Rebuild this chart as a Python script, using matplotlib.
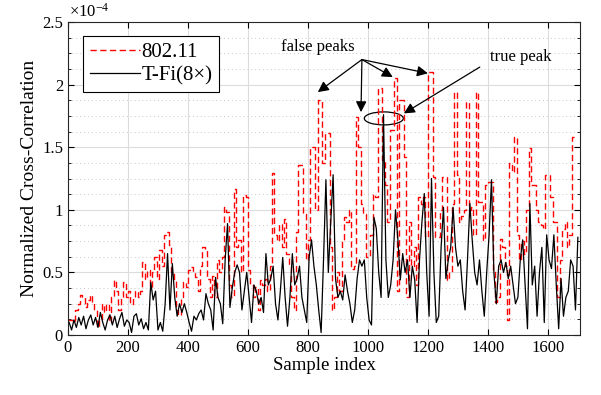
import numpy as np
import matplotlib
matplotlib.use("Agg")
import matplotlib.pyplot as plt
from matplotlib.patches import Ellipse
from matplotlib.ticker import MultipleLocator, FormatStrFormatter

plt.rcParams["font.family"] = ["Liberation Serif", "DejaVu Serif"]
plt.rcParams["mathtext.fontset"] = "custom"
plt.rcParams["mathtext.rm"] = "Liberation Serif"
plt.rcParams["mathtext.it"] = "Liberation Serif:italic"

# values in units of 1e-4, one value per 8-sample block
step = 8
wifi_8021 = [
    0.12, 0.12, 0.1, 0.2, 0.25, 0.32, 0.3, 0.22, 0.28, 0.32, 0.26, 0.2, 0.06,
    0.12, 0.25, 0.18, 0.25, 0.1, 0.3, 0.44, 0.35, 0.2, 0.3, 0.42, 0.3,
    0.35, 0.25, 0.3, 0.35, 0.3, 0.35, 0.58, 0.45, 0.52, 0.38, 0.5, 0.62, 0.45,
    0.68, 0.55, 0.8, 0.82, 0.72, 0.5, 0.45, 0.2, 0.16, 0.3, 0.42, 0.38,
    0.52, 0.54, 0.5, 0.46, 0.35, 0.55, 0.7, 0.68, 0.45, 0.3, 0.47, 0.3, 0.6,
    0.5, 0.62, 1.02, 0.98, 0.4, 0.3, 1.17, 0.7, 0.76, 0.5, 1.12, 1.1,
    0.52, 0.4, 0.3, 0.38, 0.2, 0.44, 0.4, 0.45, 0.35, 0.55, 1.29, 0.8, 0.75,
    0.89, 0.7, 0.93, 0.65, 0.55, 0.3, 0.2, 0.82, 1.36, 1.36, 0.97, 0.6,
    0.76, 1.5, 1.5, 1.0, 1.88, 1.88, 1.37, 1.61, 1.61, 0.7, 0.2, 0.3, 0.5,
    0.35, 0.75, 0.94, 0.9, 1.0, 0.53, 0.55, 1.74, 1.5, 1.05, 0.97, 0.62,
    0.62, 0.8, 1.13, 1.1, 1.97, 1.97, 1.4, 1.2, 0.9, 1.64, 1.64, 2.05, 0.35,
    1.88, 1.88, 1.42, 0.3, 0.9, 0.55, 0.7, 0.4, 1.1, 1.05, 1.1, 0.78,
    2.1, 2.1, 1.26, 0.78, 0.78, 1.0, 1.26, 1.26, 0.44, 0.5, 1.05, 1.94, 1.28,
    0.9, 0.95, 1.0, 1.86, 1.0, 1.02, 0.8, 1.94, 1.06, 1.06, 0.76, 1.2,
    1.22, 1.22, 0.5, 0.26, 0.3, 0.77, 0.7, 0.55, 0.12, 1.37, 1.3, 1.58, 0.8,
    0.6, 0.75, 0.65, 1.0, 1.49, 1.2, 1.2, 1.0, 0.9, 0.88, 0.85, 1.28,
    1.28, 1.1, 0.9, 0.9, 0.3, 0.6, 0.85, 0.9, 0.7, 0.8, 1.58, 1.58,
]

tfi_8x = [
    0.1, 0.04, 0.12, 0.06, 0.14, 0.08, 0.15, 0.05, 0.12, 0.16, 0.08, 0.14, 0.06,
    0.18, 0.1, 0.04, 0.12, 0.16, 0.08, 0.15, 0.06, 0.13, 0.18, 0.07, 0.12,
    0.1, 0.02, 0.15, 0.17, 0.08, 0.13, 0.05, 0.1, 0.04, 0.42, 0.28, 0.35, 0.04,
    0.1, 0.03, 0.25, 0.65, 0.2, 0.57, 0.3, 0.15, 0.25, 0.18, 0.25, 0.18,
    0.1, 0.03, 0.15, 0.12, 0.17, 0.2, 0.12, 0.33, 0.25, 0.2, 0.04, 0.46, 0.3,
    0.25, 0.09, 0.6, 0.89, 0.22, 0.38, 0.5, 0.56, 0.5, 0.2, 0.35, 0.5,
    0.3, 0.1, 0.4, 0.35, 0.25, 0.3, 0.18, 0.65, 0.4, 0.45, 0.55, 0.25, 0.12,
    0.35, 0.62, 0.3, 0.07, 0.3, 0.65, 0.4, 0.45, 0.55, 0.3, 0.2, 0.1,
    0.62, 0.76, 0.55, 0.4, 0.2, 0.02, 0.6, 1.24, 0.5, 0.9, 1.28, 0.45, 0.3,
    0.35, 0.28, 0.48, 0.35, 0.25, 0.1, 0.2, 0.45, 0.6, 0.55, 0.6, 0.3,
    0.12, 0.08, 0.94, 0.85, 0.5, 0.3, 1.76, 0.6, 0.3, 0.4, 0.6, 1.0, 0.76,
    0.44, 0.65, 0.5, 0.6, 0.3, 0.55, 0.44, 0.1, 0.6, 0.9, 1.13, 0.5,
    0.15, 1.25, 0.5, 0.1, 0.15, 0.7, 1.02, 0.45, 0.6, 0.7, 1.02, 0.7, 0.55,
    0.6, 0.35, 0.2, 0.6, 1.05, 0.75, 0.5, 0.4, 0.6, 0.35, 0.15, 0.5,
    0.8, 1.24, 0.5, 0.25, 0.55, 0.6, 0.5, 0.58, 0.45, 0.55, 0.4, 0.25, 0.3,
    0.6, 0.76, 0.4, 0.05, 1.05, 0.4, 0.55, 0.15, 0.5, 0.7, 0.1, 0.8,
    0.6, 0.53, 0.8, 0.4, 0.05, 0.45, 0.15, 0.3, 0.35, 0.6, 0.55, 0.2, 0.78,
]

false_peaks = [(833, 1.94), (977, 1.78), (1083, 2.06), (1200, 2.09)]
true_peak = (1053, 1.73)


def main():
    fig = plt.figure(figsize=(6.01, 3.95), dpi=100)
    ax = fig.add_axes([0.1131, 0.1519, 0.8519, 0.7924])

    red_x = np.arange(len(wifi_8021) + 1) * step
    red_y = np.append(wifi_8021, wifi_8021[-1])
    ax.step(red_x, red_y, where="post", color="red", lw=1.0,
            linestyle=(0, (4.5, 2.5)), label="802.11")

    blk_x = np.arange(len(tfi_8x)) * step + step / 2
    ax.plot(blk_x, tfi_8x, color="black", lw=0.9, label="T-Fi(8×)")

    ax.set_xlim(0, 1707)
    ax.set_ylim(0, 2.5)
    ax.xaxis.set_major_locator(MultipleLocator(200))
    ax.yaxis.set_major_locator(MultipleLocator(0.5))
    ax.yaxis.set_minor_locator(MultipleLocator(0.125))
    ax.yaxis.set_major_formatter(FormatStrFormatter("%g"))
    ax.tick_params(which="both", direction="in", top=True, right=True,
                   labelsize=12)
    ax.tick_params(which="major", length=4)
    ax.tick_params(which="minor", length=2.5)

    ax.grid(True, which="major", color="#dcdcdc", lw=0.8)
    ax.yaxis.grid(True, which="minor", color="#c8c8c8", lw=0.7,
                  linestyle=(0, (1, 3)))
    ax.set_axisbelow(True)
    for sp in ax.spines.values():
        sp.set_linewidth(0.8)
        sp.set_color("#262626")

    ax.set_xlabel("Sample index", fontsize=13.5, labelpad=1)
    ax.set_ylabel("Normalized Cross-Correlation", fontsize=14, labelpad=3)
    ax.text(0.002, 1.004, r"$\times10^{-4}$", transform=ax.transAxes,
            fontsize=12, ha="left", va="bottom")

    leg = ax.legend(loc="upper left", bbox_to_anchor=(0.03, 0.955),
                    fontsize=15, handlelength=2.4, handletextpad=0.1,
                    borderpad=0.3, labelspacing=0.2, fancybox=False,
                    framealpha=1, borderaxespad=0)
    leg.get_frame().set_edgecolor("black")
    leg.get_frame().set_linewidth(0.8)

    arrow = dict(arrowstyle="-|>", color="black", lw=0.9, mutation_scale=16,
                 shrinkA=0, shrinkB=0)
    ax.text(833, 2.30, "false peaks", fontsize=12, ha="center", va="center")
    for px, py in false_peaks:
        ax.annotate("", xy=(px, py), xytext=(980, 2.20), arrowprops=arrow)

    ax.add_patch(Ellipse(true_peak, 130, 0.104, fill=False,
                         edgecolor="black", lw=0.9))
    ax.text(1510, 2.22, "true peak", fontsize=12, ha="center", va="center")
    ax.annotate("", xy=(1120, 1.77), xytext=(1373, 2.14), arrowprops=arrow)

    fig.savefig("out.png", dpi=100)


if __name__ == "__main__":
    main()
